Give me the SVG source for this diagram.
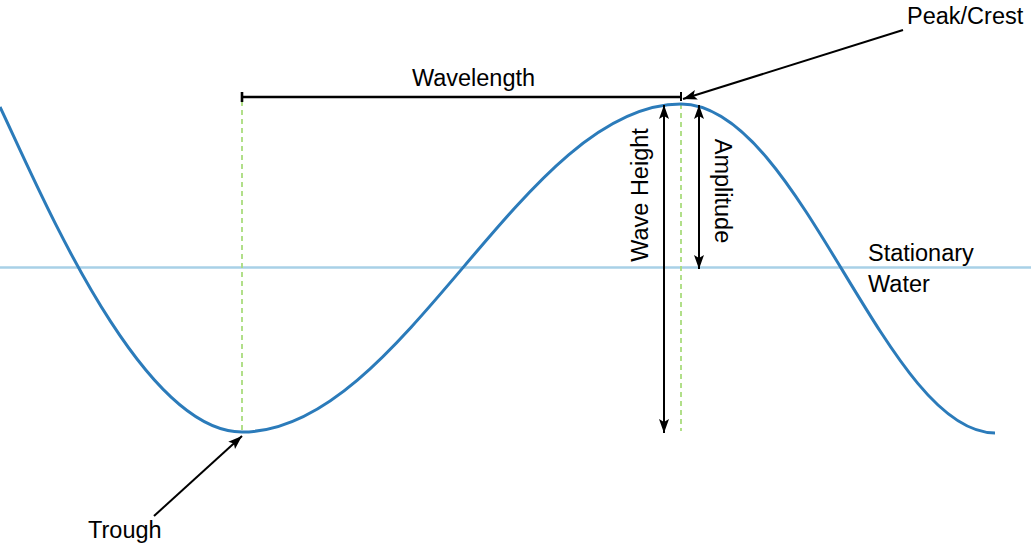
<svg xmlns="http://www.w3.org/2000/svg" width="1031" height="547" viewBox="0 0 1031 547">
<style>
text{font-family:"Liberation Sans",Arial,sans-serif;font-size:23.5px;fill:#000}
.blk{stroke:#000;stroke-width:2;fill:none}
.bar{stroke:#000;stroke-width:2.6;fill:none}
.guide{stroke:#a9dc7d;stroke-width:1.8;stroke-dasharray:5 4;fill:none}
</style>
<defs>
<marker id="ah" markerUnits="userSpaceOnUse" markerWidth="16" markerHeight="12" refX="14" refY="5" orient="auto">
<path d="M0,0 L14,5 L0,10 L3,5 Z" fill="#000"/>
</marker>
</defs>
<rect width="1031" height="547" fill="#fff"/>
<g id="water">
<line x1="0" y1="267.5" x2="1031" y2="267.5" stroke="#a8d1e7" stroke-width="2.5"/>
</g>
<g id="guides">
<line class="guide" x1="242" y1="101" x2="242" y2="432"/>
<line class="guide" x1="681" y1="104" x2="681" y2="431"/>
</g>
<g id="wave">
<path d="M0,107 C40,191 140,432 242,432 C404,432 522,104 681,104 C800,104 885,433 995,433" fill="none" stroke="#2b7bba" stroke-width="3"/>
</g>
<g id="connectors">
<line class="bar" x1="242" y1="97" x2="681" y2="97"/>
<line class="bar" x1="242" y1="92" x2="242" y2="102"/>
<line class="blk" x1="681" y1="92" x2="681" y2="101"/>
<line class="blk" x1="903" y1="30" x2="683" y2="99" marker-end="url(#ah)"/>
<line class="blk" x1="664" y1="270" x2="664" y2="105" marker-end="url(#ah)"/>
<line class="blk" x1="664" y1="260" x2="664" y2="433" marker-end="url(#ah)"/>
<line class="blk" x1="699" y1="190" x2="699" y2="105" marker-end="url(#ah)"/>
<line class="blk" x1="699" y1="180" x2="699" y2="269" marker-end="url(#ah)"/>
<line class="blk" x1="154" y1="516" x2="242" y2="436" marker-end="url(#ah)"/>
</g>
<g id="labels">
<text x="473.5" y="86" text-anchor="middle">Wavelength</text>
<text x="907" y="24">Peak/Crest</text>
<text x="868" y="261">Stationary</text>
<text x="868" y="292">Water</text>
<text x="88" y="538">Trough</text>
<text transform="translate(648,195) rotate(-90)" text-anchor="middle">Wave Height</text>
<text transform="translate(715,191) rotate(90)" text-anchor="middle">Amplitude</text>
</g>
</svg>
